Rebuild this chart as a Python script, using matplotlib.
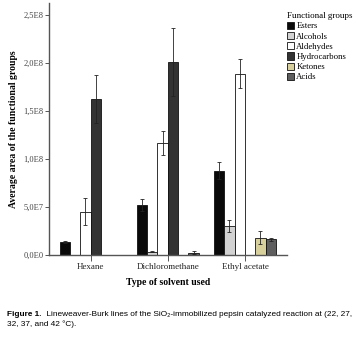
import numpy as np
import matplotlib.pyplot as plt
from matplotlib import font_manager

solvents = ['Hexane', 'Dichloromethane', 'Ethyl acetate']
groups = ['Esters', 'Alcohols', 'Aldehydes', 'Hydrocarbons', 'Ketones', 'Acids']
esters = [1.4e7, 5.2e7, 8.8e7]
esters_err = [0.1e7, 0.6e7, 0.85e7]
alcohols = [0, 0.35e7, 3.0e7]
alcohols_err = [0, 0.05e7, 0.65e7]
aldehydes = [4.5e7, 1.17e8, 1.89e8]
aldehydes_err = [1.4e7, 1.25e7, 1.55e7]
hydrocarbons = [1.63e8, 2.01e8, 0]
hydrocarbons_err = [2.5e7, 3.5e7, 0]
ketones = [0, 0, 1.8e7]
ketones_err = [0, 0, 0.65e7]
acids = [0, 0.25e7, 1.65e7]
acids_err = [0, 0.15e7, 0.15e7]
colors = ['#0a0a0a', '#d2d2d2', '#ffffff', '#333333', '#d8d09c', '#5e5e5e']
ytick_vals = [0, 5e7, 1e8, 1.5e8, 2e8, 2.5e8]
ytick_labels = ['0,0E0', '5,0E7', '1,0E8', '1,5E8', '2,0E8', '2,5E8']

vals = [esters, alcohols, aldehydes, hydrocarbons, ketones, acids]
errs = [esters_err, alcohols_err, aldehydes_err, hydrocarbons_err, ketones_err, acids_err]

serif = 'Liberation Serif'
names = {f.name for f in font_manager.fontManager.ttflist}
capfont = 'Liberation Sans Narrow' if 'Liberation Sans Narrow' in names else 'Liberation Sans'

fig = plt.figure(figsize=(3.57, 3.43), dpi=100)
ax = fig.add_axes([49/357, 1-255/343, 238/357, 252/343])

x = np.arange(len(solvents))
w = 0.134
for i in range(len(groups)):
    pos = x + (i - 2.5) * w
    ax.bar(pos, vals[i], w, color=colors[i], edgecolor='#111111', linewidth=0.6,
           label=groups[i], zorder=2)
    for p, v, e in zip(pos, vals[i], errs[i]):
        if v > 0:
            ax.errorbar(p, v, yerr=e, fmt='none', ecolor='#222222', elinewidth=0.6,
                        capsize=1.2, capthick=0.6, zorder=3)

ax.set_xlim(-0.539, 2.545)
ax.set_ylim(0, 2.625e8)
ax.set_xticks(x)
ax.set_xticklabels(solvents, fontfamily=serif, fontsize=6.5, color='#222222')
ax.set_yticks(ytick_vals)
ax.set_yticklabels(ytick_labels, fontfamily=serif, fontsize=6, color='#444444')
ax.tick_params(axis='y', length=3, width=0.7, color='#555555', pad=1)
ax.tick_params(axis='x', length=4, width=0.7, color='#555555', pad=2)
for s in ['top', 'right']:
    ax.spines[s].set_visible(False)
for s in ['left', 'bottom']:
    ax.spines[s].set_color('#555555')
    ax.spines[s].set_linewidth(1.0)
ax.set_ylabel('Average area of the functional groups', fontfamily=serif,
              fontweight='bold', fontsize=7, labelpad=4)
ax.set_xlabel('Type of solvent used', fontfamily=serif, fontweight='bold',
              fontsize=7, labelpad=5)

leg = fig.legend(loc='upper left', bbox_to_anchor=(281/357, 1-6/343), frameon=False,
                 prop={'family': serif, 'size': 6.3}, title='Functional groups',
                 title_fontproperties={'family': serif, 'size': 6.5},
                 handlelength=0.8, handleheight=0.9, handletextpad=0.25,
                 labelspacing=0.18, borderpad=0.2, alignment='left')

t1 = fig.text(7/357, 1-316/343, 'Figure 1.', fontfamily=[capfont, 'DejaVu Sans'],
              fontweight='bold', fontsize=5.95, va='baseline')
ax.annotate('  Lineweaver-Burk lines of the SiO\u2082-immobilized pepsin catalyzed reaction at (22, 27,',
            xy=(1, 0), xycoords=t1, va='bottom', ha='left',
            fontfamily=[capfont, 'DejaVu Sans'], fontsize=5.95, annotation_clip=False)
fig.text(7/357, 1-326/343, '32, 37, and 42 \u00b0C).', fontfamily=[capfont, 'DejaVu Sans'],
         fontsize=5.95, va='baseline')

fig.savefig('out.png', dpi=100)
